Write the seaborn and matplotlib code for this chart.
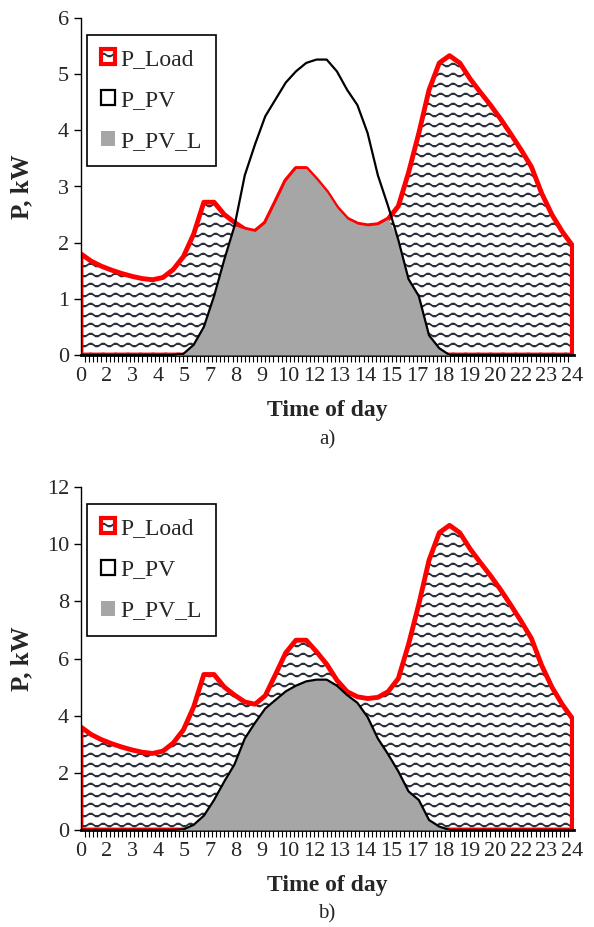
import matplotlib
matplotlib.use("Agg")
import matplotlib.pyplot as plt
import matplotlib.hatch as mhatch
from matplotlib.path import Path
import numpy as np
import pandas as pd
import seaborn as sns
from matplotlib.patches import Patch
from matplotlib.ticker import MultipleLocator

# half-hour grid, 0..24 h
hours = np.arange(0, 24.5, 0.5)

# panel a) load, kW
p_load_a = [1.80, 1.67, 1.58, 1.51, 1.45, 1.40, 1.36, 1.34, 1.38, 1.52,
            1.75, 2.15, 2.72, 2.72, 2.50, 2.36, 2.24, 2.20, 2.35, 2.72,
            3.10, 3.32, 3.32, 3.12, 2.90, 2.62, 2.42, 2.33, 2.30, 2.32,
            2.42, 2.65, 3.25, 3.95, 4.72, 5.20, 5.33, 5.20, 4.92, 4.68,
            4.45, 4.20, 3.93, 3.65, 3.35, 2.88, 2.50, 2.20, 1.95]

# PV generation, kW (same in both panels)
p_pv = [0, 0, 0, 0, 0, 0, 0, 0, 0, 0,
        0.02, 0.18, 0.50, 1.05, 1.70, 2.30, 3.20, 3.75, 4.25, 4.55,
        4.85, 5.05, 5.20, 5.26, 5.26, 5.05, 4.72, 4.45, 3.95, 3.20,
        2.65, 2.05, 1.35, 1.05, 0.35, 0.12, 0, 0, 0, 0,
        0, 0, 0, 0, 0, 0, 0, 0, 0]

# PV used by the load, panel a)
p_pv_l_a = [0, 0, 0, 0, 0, 0, 0, 0, 0, 0,
            0.02, 0.18, 0.50, 1.05, 1.70, 2.30, 2.24, 2.20, 2.35, 2.72,
            3.10, 3.32, 3.32, 3.12, 2.90, 2.62, 2.42, 2.33, 2.30, 2.32,
            2.42, 2.05, 1.35, 1.05, 0.35, 0.12, 0, 0, 0, 0,
            0, 0, 0, 0, 0, 0, 0, 0, 0]

# panel b) load, kW
p_load_b = [3.60, 3.34, 3.16, 3.02, 2.90, 2.80, 2.72, 2.68, 2.76, 3.04,
            3.50, 4.30, 5.44, 5.44, 5.00, 4.72, 4.48, 4.40, 4.70, 5.44,
            6.20, 6.64, 6.64, 6.24, 5.80, 5.24, 4.84, 4.66, 4.60, 4.64,
            4.84, 5.30, 6.50, 7.90, 9.44, 10.40, 10.66, 10.40, 9.84, 9.36,
            8.90, 8.40, 7.86, 7.30, 6.70, 5.76, 5.00, 4.40, 3.90]

# PV used by the load, panel b)
p_pv_l_b = [0, 0, 0, 0, 0, 0, 0, 0, 0, 0,
            0.02, 0.18, 0.50, 1.05, 1.70, 2.30, 3.20, 3.75, 4.25, 4.55,
            4.85, 5.05, 5.20, 5.26, 5.26, 5.05, 4.72, 4.45, 3.95, 3.20,
            2.65, 2.05, 1.35, 1.05, 0.35, 0.12, 0, 0, 0, 0,
            0, 0, 0, 0, 0, 0, 0, 0, 0]

xtick_labels = ['0', '2', '3', '4', '5', '7', '8', '9', '10', '12',
                '13', '14', '15', '17', '18', '19', '20', '22', '23', '24']


# wavy hatch in place of the plain '-' one (Excel style "wave" pattern)
class WavyHatch(mhatch.HatchPatternBase):
    def __init__(self, hatch, density):
        self.num_lines = hatch.count('-') * 5
        self.n_pts = 49
        self.num_vertices = self.num_lines * self.n_pts

    def set_vertices_and_codes(self, vertices, codes):
        xs = np.linspace(0, 1, self.n_pts)
        step = 1.0 / self.num_lines
        for i in range(self.num_lines):
            sl = slice(i * self.n_pts, (i + 1) * self.n_pts)
            vertices[sl, 0] = xs
            vertices[sl, 1] = (i + 0.5) * step + 0.016 * np.sin(2 * np.pi * 8 * xs)
            codes[sl] = Path.LINETO
            codes[i * self.n_pts] = Path.MOVETO


mhatch._hatch_types[mhatch._hatch_types.index(mhatch.HorizontalHatch)] = WavyHatch

sns.set_style("ticks")
plt.rcParams['font.family'] = ['Liberation Serif', 'DejaVu Serif']
plt.rcParams['hatch.linewidth'] = 1.3

hatch_col = '#2a303c'
grey = '#a6a6a6'

fig = plt.figure(figsize=(5.94, 9.27), dpi=100)
ax_a = fig.add_axes([81 / 594, 1 - 355 / 927, 493 / 594, 337 / 927])
ax_b = fig.add_axes([81 / 594, 1 - 830 / 927, 493 / 594, 343 / 927])


def draw_panel(ax, load, pv_l, ymax, ystep, tag, ytag):
    df = pd.DataFrame({'hour': hours, 'P_Load': load, 'P_PV': p_pv, 'P_PV_L': pv_l})
    # load area: hatched, red outline
    ax.fill_between(df['hour'], 0, df['P_Load'], facecolor='white',
                    edgecolor=hatch_col, hatch='--', linewidth=0, zorder=1)
    ax.fill_between(df['hour'], 0, df['P_Load'], facecolor='none',
                    edgecolor='red', linewidth=3.5, zorder=2)
    # pv used by load
    ax.fill_between(df['hour'], 0, df['P_PV_L'], facecolor=grey,
                    linewidth=0, zorder=3)
    sns.lineplot(data=df, x='hour', y='P_PV', color='black', lw=1.6,
                 ax=ax, zorder=4)

    ax.set_xlim(0, 24.08)
    ax.set_ylim(0, ymax)
    ax.set_yticks(np.arange(0, ymax + 0.01, ystep))
    ax.set_xticks(np.linspace(0, 24, len(xtick_labels)), xtick_labels)
    ax.xaxis.set_minor_locator(MultipleLocator(0.2))
    ax.tick_params(axis='x', which='major', length=0, labelsize=16, pad=9)
    ax.tick_params(axis='x', which='minor', length=5, width=0.8, color='black')
    ax.tick_params(axis='y', length=5, width=1, labelsize=16, color='black')

    sns.despine(ax=ax)
    ax.spines['left'].set_linewidth(1)
    ax.spines['bottom'].set_linewidth(2)
    ax.spines['left'].set_color('black')
    ax.spines['bottom'].set_color('black')

    h_px = ax.get_position().height * 927
    ax.set_xlabel('Time of day', fontsize=17, fontweight='bold')
    ax.set_ylabel('P, kW', fontsize=18, fontweight='bold')
    ax.xaxis.set_label_coords(0.5, -56 / h_px)
    ax.xaxis.label.set_va('center')
    ax.yaxis.set_label_coords(-0.12, 0.5)
    ax.yaxis.label.set_va('center')

    handles = [
        (Patch(facecolor='white', edgecolor=hatch_col, hatch='--', linewidth=0),
         Patch(facecolor='none', edgecolor='red', linewidth=3)),
        Patch(facecolor='white', edgecolor='black', linewidth=1.6),
        Patch(facecolor=grey, edgecolor='none'),
    ]
    leg = ax.legend(handles, ['P_Load', 'P_PV', 'P_PV_L'], loc='upper left',
                    bbox_to_anchor=(0.012, 0.95), borderaxespad=0,
                    fontsize=17, handlelength=0.6, handleheight=0.6,
                    handletextpad=0.2, labelspacing=0.85, borderpad=0.6,
                    fancybox=False, framealpha=1, edgecolor='black')
    leg.get_frame().set_linewidth(1.2)

    fig.text(327 / 594, 1 - ytag / 927, tag, ha='center', va='center', fontsize=15)


draw_panel(ax_a, p_load_a, p_pv_l_a, 6, 1, 'a)', 440)
draw_panel(ax_b, p_load_b, p_pv_l_b, 12, 2, 'b)', 914)

plt.savefig('out.png', dpi=100)
